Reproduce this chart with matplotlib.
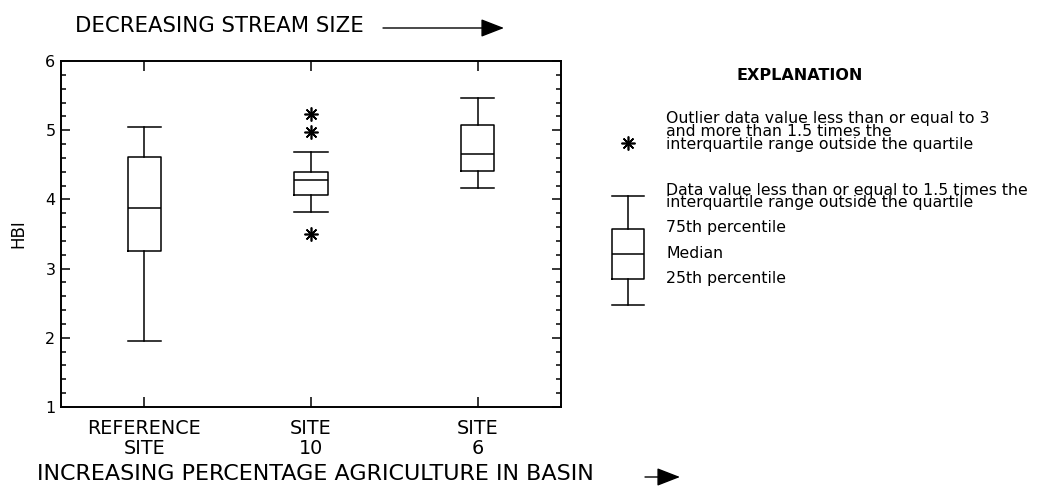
import matplotlib
matplotlib.use("Agg")
import matplotlib.pyplot as plt
from matplotlib.patches import FancyArrowPatch
from matplotlib.ticker import MultipleLocator

# Box-plot summaries of HBI for each site
categories = ["REFERENCE\nSITE", "SITE\n10", "SITE\n6"]
whisker_low = [1.96, 3.82, 4.17]
q1 = [3.25, 4.06, 4.41]
median = [3.87, 4.28, 4.65]
q3 = [4.61, 4.39, 5.08]
whisker_high = [5.05, 4.69, 5.47]
outliers = [[], [5.24, 4.98, 3.50], []]

W, H = 1042, 487
plt.rcParams["font.family"] = ["DejaVu Sans"]
fig = plt.figure(figsize=(W / 100, H / 100), dpi=100)


def fx(px):
    return px / W


def fy(py):
    return 1 - py / H


ax = fig.add_axes([fx(61), fy(407), fx(561) - fx(61), fy(61) - fy(407)])

stats = []
for i in range(len(categories)):
    stats.append(dict(whislo=whisker_low[i], q1=q1[i], med=median[i],
                      q3=q3[i], whishi=whisker_high[i], fliers=outliers[i]))

line = dict(color="black", linewidth=1.1)
ax.bxp(stats, positions=[1, 2, 3], widths=0.2, capwidths=0.2,
       boxprops=line, whiskerprops=line, capprops=line, medianprops=line,
       flierprops=dict(marker=(8, 2, 0), markersize=10, markeredgewidth=1.2,
                       markeredgecolor="black", linestyle="none"))

ax.set_xlim(0.5, 3.5)
ax.set_ylim(1, 6)
ax.set_xticks([1, 2, 3])
ax.set_xticklabels(categories, fontsize=13.8, linespacing=1.0)
ax.yaxis.set_major_locator(MultipleLocator(1))
ax.yaxis.set_minor_locator(MultipleLocator(0.2))
ax.tick_params(axis="y", which="major", direction="in", length=6.5, width=1.1,
               left=True, right=True, labelsize=11.5, pad=4)
ax.tick_params(axis="y", which="minor", direction="in", length=3.5, width=1.1,
               left=True, right=True)
ax.tick_params(axis="x", which="major", direction="in", length=7, width=1.1,
               top=True, bottom=True, pad=9)
for s in ax.spines.values():
    s.set_linewidth(1.4)
ax.set_ylabel("HBI", fontsize=12, labelpad=13)

# Direction notes with arrows
fig.text(fx(75), fy(26), "DECREASING STREAM SIZE", fontsize=15.3,
         ha="left", va="center")
fig.add_artist(FancyArrowPatch((fx(383), fy(28)), (fx(504), fy(28)),
                               transform=fig.transFigure,
                               arrowstyle="-|>,head_length=0.9,head_width=0.35",
                               mutation_scale=16, linewidth=1.0, color="black",
                               shrinkA=0, shrinkB=0))
fig.text(fx(37), fy(474.5), "INCREASING PERCENTAGE AGRICULTURE IN BASIN",
         fontsize=16, ha="left", va="center")
fig.add_artist(FancyArrowPatch((fx(645), fy(477)), (fx(680), fy(477)),
                               transform=fig.transFigure,
                               arrowstyle="-|>,head_length=0.9,head_width=0.35",
                               mutation_scale=16, linewidth=1.0, color="black",
                               shrinkA=0, shrinkB=0))

# Explanation key
fig.text(fx(800), fy(75), "EXPLANATION", fontsize=11.5, fontweight="bold",
         ha="center", va="center")

key = fig.add_axes([fx(600), fy(312), fx(656) - fx(600), fy(100) - fy(312)])
key.set_xlim(0, 1)
key.set_ylim(0, 1)
key.axis("off")
key.plot([0.5], [0.797], linestyle="none", marker=(8, 2, 0), markersize=10,
         markeredgewidth=1.2, color="black")
key.bxp([dict(whislo=0.033, q1=0.156, med=0.274, q3=0.392, whishi=0.547,
              fliers=[])],
        positions=[0.5], widths=0.58, capwidths=0.58,
        boxprops=line, whiskerprops=line, capprops=line, medianprops=line,
        manage_ticks=False)

key_lines = [
    (123.5, "Outlier data value less than or equal to 3"),
    (136.5, "and more than 1.5 times the"),
    (149.5, "interquartile range outside the quartile"),
    (194.5, "Data value less than or equal to 1.5 times the"),
    (207.5, "interquartile range outside the quartile"),
    (231.5, "75th percentile"),
    (258.0, "Median"),
    (283.0, "25th percentile"),
]
for y, txt in key_lines:
    fig.text(fx(666), fy(y), txt, fontsize=11.3, ha="left", va="baseline")

fig.savefig("out.png", dpi=100)
